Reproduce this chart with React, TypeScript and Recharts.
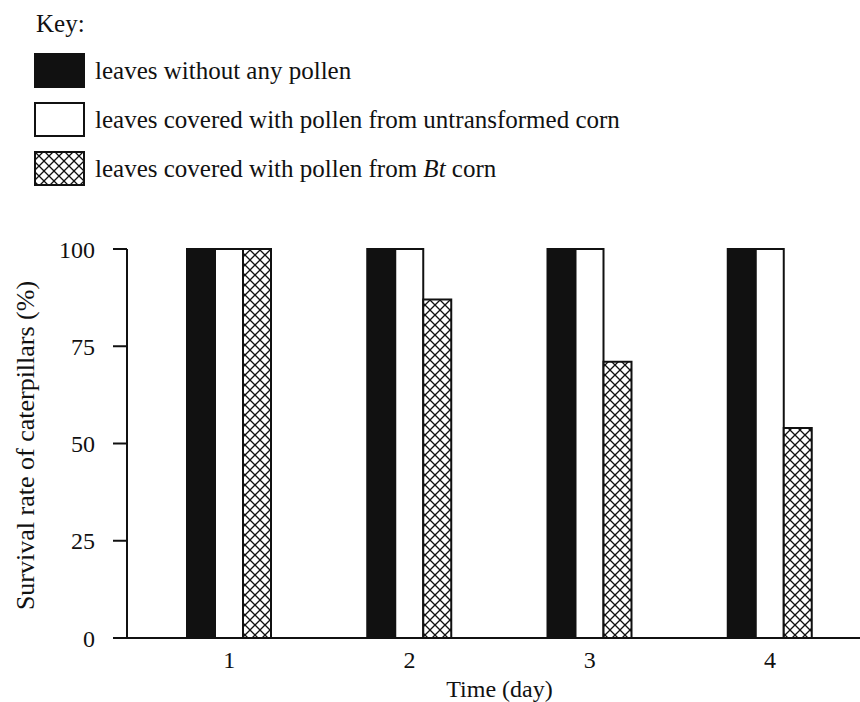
import { Bar, BarChart, Legend, XAxis, YAxis } from 'recharts';

const days = ['1', '2', '3', '4'];
const noPollen = [100, 100, 100, 100];
const untransformedPollen = [100, 100, 100, 100];
const btPollen = [100, 87, 71, 54];
const yTicks = [0, 25, 50, 75, 100];

const seriesNames = [
  'leaves without any pollen',
  'leaves covered with pollen from untransformed corn',
  'leaves covered with pollen from Bt corn',
];

const data = days.map((day, i) => ({
  day,
  none: noPollen[i],
  plain: untransformedPollen[i],
  bt: btPollen[i],
}));

const serif = '"Liberation Serif", "Times New Roman", serif';
const ink = '#111';

function KeySwatch({ kind }: { kind: number }) {
  const fill = kind === 0 ? ink : kind === 1 ? '#fff' : 'url(#crosshatch)';
  return (
    <svg width={52} height={36} style={{ display: 'block' }}>
      <rect x={1} y={1} width={49} height={33} fill={fill} stroke={ink} strokeWidth={2} />
    </svg>
  );
}

function Key() {
  return (
    <div style={{ fontFamily: serif, fontSize: 25, color: ink, lineHeight: 1 }}>
      <div style={{ marginLeft: 2, marginBottom: 10, marginTop: 3 }}>Key:</div>
      {seriesNames.map((name, i) => (
        <div key={name} style={{ display: 'flex', alignItems: 'center', height: 49 }}>
          <KeySwatch kind={i} />
          <span style={{ marginLeft: 9 }}>
            {i === 2 ? (
              <>
                leaves covered with pollen from <i>Bt</i> corn
              </>
            ) : (
              name
            )}
          </span>
        </div>
      ))}
    </div>
  );
}

export default function App() {
  return (
    <div style={{ position: 'absolute', left: 0, top: 0, width: 860, height: 702, background: '#fff' }}>
      <BarChart
        width={860}
        height={702}
        data={data}
        margin={{ top: 249, right: 0, bottom: 34, left: 27 }}
        barGap={0}
        barCategoryGap={0}
      >
        <defs>
          <pattern id="crosshatch" width={10} height={10} patternUnits="userSpaceOnUse">
            <rect width={10} height={10} fill="#fff" />
            <path d="M0,0 L10,10 M10,0 L0,10 M-1,9 L1,11 M9,-1 L11,1" stroke={ink} strokeWidth={1.3} />
          </pattern>
        </defs>
        <Legend
          layout="horizontal"
          verticalAlign="middle"
          align="center"
          content={() => <Key />}
          wrapperStyle={{ top: 8, left: 34, width: 640, height: 190 }}
        />
        <XAxis
          dataKey="day"
          height={30}
          padding={{ left: 12, right: 0 }}
          axisLine={{ stroke: ink, strokeWidth: 2 }}
          tickLine={false}
          tickSize={0}
          tickMargin={13}
          tick={{ fill: ink, fontSize: 24, fontFamily: serif }}
          label={(props: any) => {
            const vb = props.viewBox;
            return (
              <text
                x={vb.x + vb.width / 2 + 6}
                y={697}
                textAnchor="middle"
                fill={ink}
                fontSize={24}
                fontFamily={serif}
              >
                Time (day)
              </text>
            );
          }}
        />
        <YAxis
          width={100}
          domain={[0, 100]}
          ticks={yTicks}
          interval={0}
          axisLine={{ stroke: ink, strokeWidth: 2 }}
          tickLine={{ stroke: ink, strokeWidth: 2 }}
          tickSize={14}
          tickMargin={18}
          tick={{ fill: ink, fontSize: 24, fontFamily: serif }}
          label={(props: any) => {
            const vb = props.viewBox;
            const cx = 34;
            const cy = vb.y + vb.height / 2 + 2;
            return (
              <text
                x={cx}
                y={cy}
                transform={`rotate(-90 ${cx} ${cy})`}
                textAnchor="middle"
                fill={ink}
                fontSize={26}
                fontFamily={serif}
              >
                Survival rate of caterpillars (%)
              </text>
            );
          }}
        />
        <Bar dataKey="none" name={seriesNames[0]} barSize={28} fill={ink} stroke={ink} strokeWidth={2} isAnimationActive={false} />
        <Bar dataKey="plain" name={seriesNames[1]} barSize={28} fill="#fff" stroke={ink} strokeWidth={2} isAnimationActive={false} />
        <Bar dataKey="bt" name={seriesNames[2]} barSize={28} fill="url(#crosshatch)" stroke={ink} strokeWidth={2} isAnimationActive={false} />
      </BarChart>
    </div>
  );
}
